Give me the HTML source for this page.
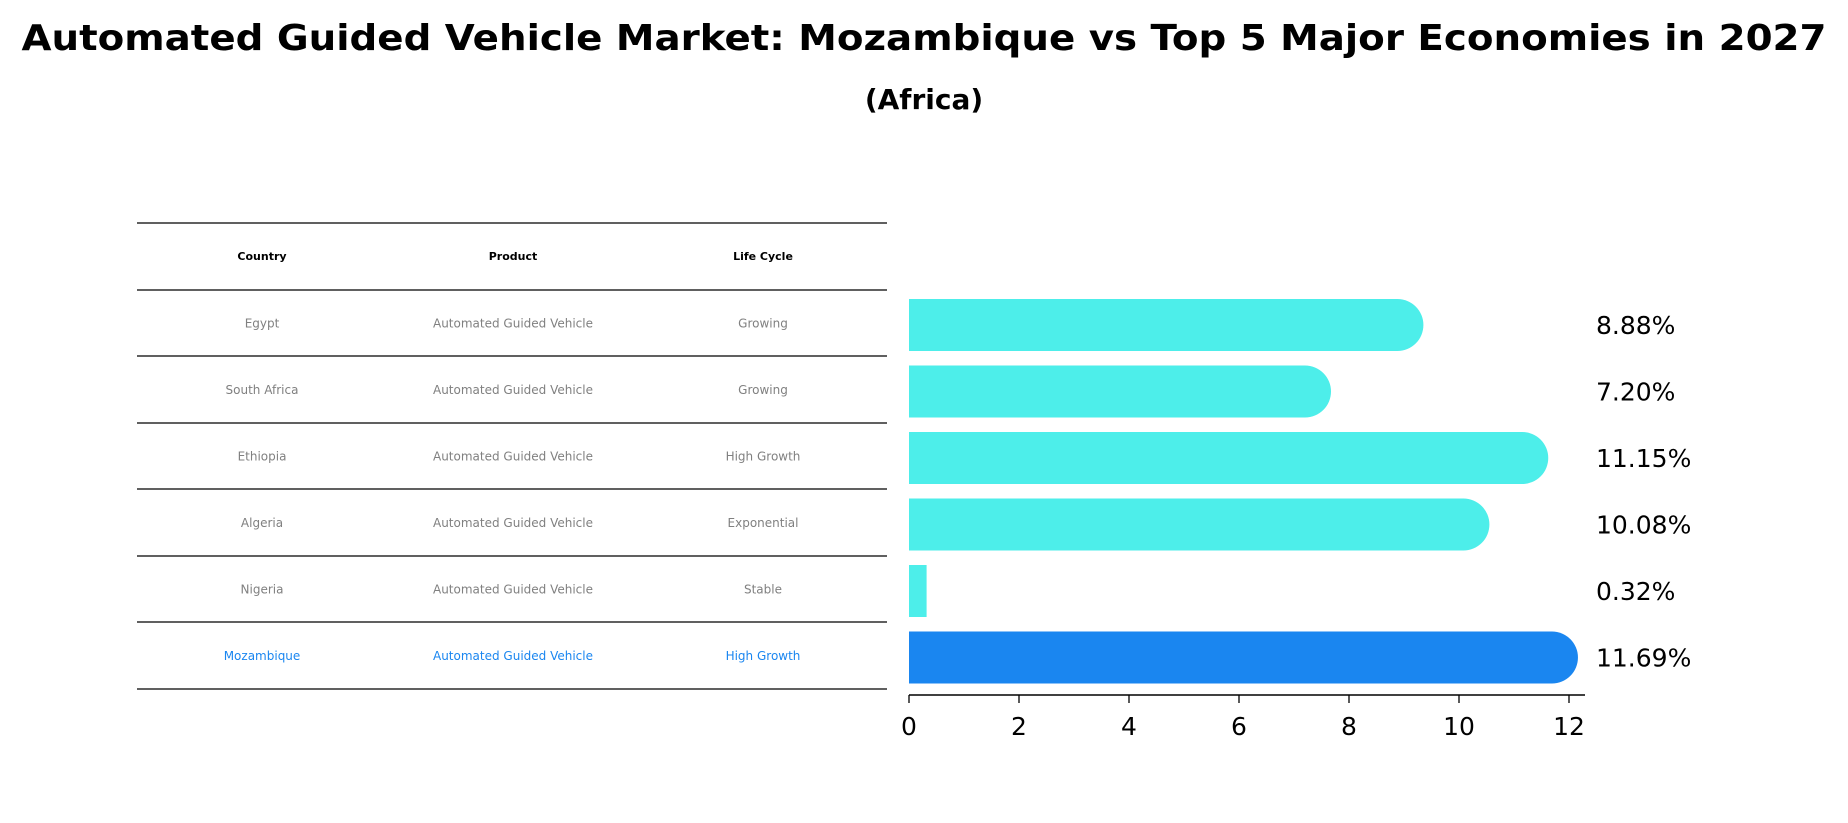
<!DOCTYPE html>
<html><head><meta charset="utf-8"><style>
body{margin:0;background:#fff;}
svg{display:block;font-family:"DejaVu Sans","Liberation Sans",sans-serif;}
</style></head><body>
<svg id="chart" width="1848" height="823" viewBox="0 0 1848 823">
<text x="924" y="50" text-anchor="middle" font-size="36" font-weight="bold" textLength="1805" lengthAdjust="spacingAndGlyphs">Automated Guided Vehicle Market: Mozambique vs Top 5 Major Economies in 2027</text>
<text x="924" y="109" text-anchor="middle" font-size="28" font-weight="bold">(Africa)</text>
<g id="table"></g>
<g id="bars"></g>
</svg>
<script>
const countries=["Egypt","South Africa","Ethiopia","Algeria","Nigeria","Mozambique"];
const products=["Automated Guided Vehicle","Automated Guided Vehicle","Automated Guided Vehicle","Automated Guided Vehicle","Automated Guided Vehicle","Automated Guided Vehicle"];
const lifeCycles=["Growing","Growing","High Growth","Exponential","Stable","High Growth"];
const values=[8.88,7.20,11.15,10.08,0.32,11.69];
const labels=["8.88%","7.20%","11.15%","10.08%","0.32%","11.69%"];
const ticks=[0,2,4,6,8,10,12];
const NS="http://www.w3.org/2000/svg";
function mk(tag,attrs,parent,text){const e=document.createElementNS(NS,tag);for(const k in attrs)e.setAttribute(k,attrs[k]);if(text!==undefined)e.textContent=text;parent.appendChild(e);return e;}
const tbl=document.getElementById('table'),bars=document.getElementById('bars');
const lineYs=[223,290,356,423,489,556,622,689];
const colX=[262,513,763];
const rowH=66.5, rowTop=290;
for(const y of lineYs){const l=mk('line',{x1:137,x2:887,y1:y,y2:y,stroke:'#000','stroke-width':1.2},tbl);

}
["Country","Product","Life Cycle"].forEach((h,i)=>{const t=mk('text',{x:colX[i],y:260,'text-anchor':'middle','font-size':11,'font-weight':'bold'},tbl,h);

});
const x0=909, unit=55, axisY=695, barH=52;
function xs(v){return x0+v*unit;}
function yc(i){return rowTop+rowH*i+35;}
countries.forEach((c,i)=>{
  const col=i===countries.length-1?'#1a86f0':'#808080';
  const y=rowTop+rowH*i+rowH/2+4;
  [c,products[i],lifeCycles[i]].forEach((s,j)=>{const t=mk('text',{x:colX[j],y:y,'text-anchor':'middle','font-size':12,fill:col},tbl,s);
  
  });
  const fill=i===countries.length-1?'#1a86f0':'#4deeea';
  const w=xs(values[i])-x0, r=barH/2, cy=yc(i);
  let p;
  if(values[i]>1){p=mk('path',{d:`M${x0},${cy-r} H${x0+w} A${r},${r} 0 0 1 ${x0+w},${cy+r} H${x0} Z`,fill:fill},bars);}
  else{p=mk('rect',{x:x0,y:cy-r,width:w,height:barH,fill:fill},bars);}
  
  
  const t=mk('text',{x:1596,y:cy+9,'font-size':25},bars,labels[i]);
  
  
});
const ax=mk('line',{x1:x0,x2:1585,y1:axisY,y2:axisY,stroke:'#000','stroke-width':1.5},bars);


ticks.forEach(v=>{const tk=mk('line',{x1:xs(v),x2:xs(v),y1:axisY,y2:axisY+8,stroke:'#000','stroke-width':1.3},bars);


const t=mk('text',{x:xs(v),y:735,'text-anchor':'middle','font-size':25},bars,String(v));

});
</script>
</body></html>
